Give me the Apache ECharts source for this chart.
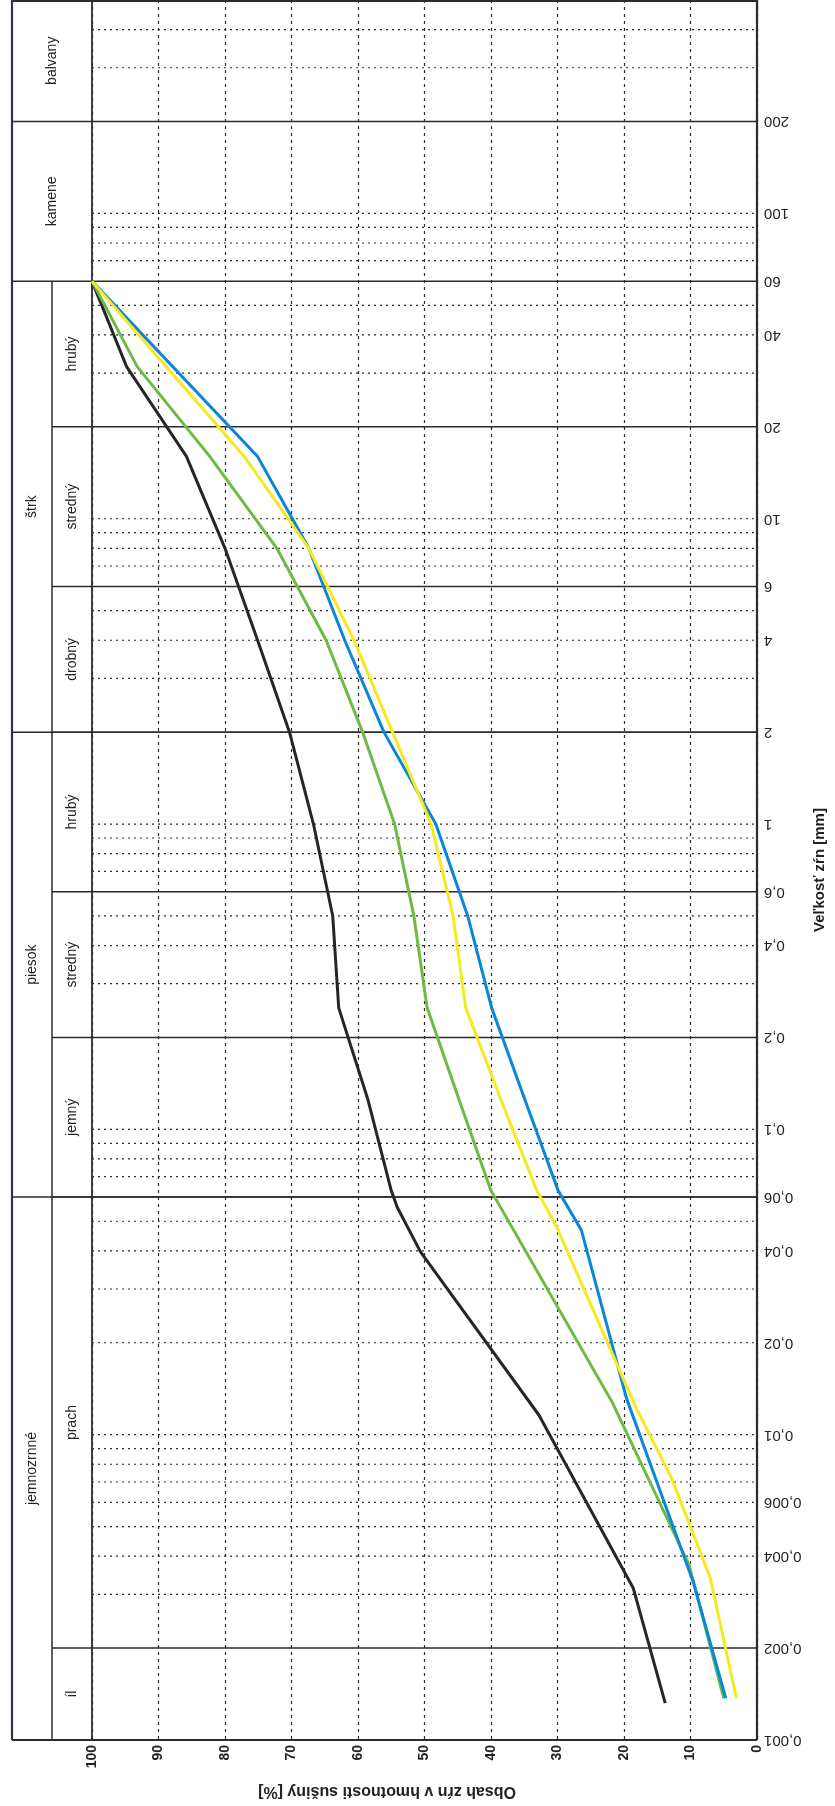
<!DOCTYPE html>
<html>
<head>
<meta charset="utf-8">
<style>
  html, body { margin: 0; padding: 0; background: #fff; }
  #chart { width: 835px; height: 1806px; }
</style>
<script src="https://cdn.jsdelivr.net/npm/echarts@6/dist/echarts.min.js"></script>
</head>
<body>
<div id="chart"></div>
<script>
// grain size [mm] vs. passing [%]
const blackSize = [60, 31.5, 16, 8, 4, 2, 1, 0.5, 0.25, 0.125, 0.063, 0.0556, 0.0397, 0.0116, 0.00314, 0.00132];
const blackPass = [100, 94.8, 85.8, 80.0, 75.1, 70.3, 66.7, 63.8, 62.9, 58.5, 55.0, 54.1, 50.6, 32.8, 18.6, 13.8];
const greenSize = [60, 31.5, 16, 8, 4, 2, 1, 0.5, 0.25, 0.125, 0.063, 0.0128, 0.00374, 0.00137];
const greenPass = [100, 93.2, 82.3, 72.2, 64.8, 59.3, 54.5, 51.6, 49.6, 44.8, 40.0, 21.8, 10.2, 5.0];
const blueSize = [60, 16, 8, 4, 2, 1, 0.5, 0.25, 0.125, 0.063, 0.0467, 0.0131, 0.0033, 0.00137];
const bluePass = [100, 75.1, 67.4, 62.0, 56.1, 48.3, 43.5, 39.9, 34.9, 29.9, 26.4, 19.6, 9.6, 4.7];
const yellowSize = [60, 16, 8, 4, 2, 1, 0.5, 0.25, 0.125, 0.063, 0.0483, 0.0124, 0.00718, 0.00338, 0.00137];
const yellowPass = [100, 77.1, 67.4, 60.6, 54.8, 49.0, 45.7, 43.8, 38.5, 33.1, 30.2, 18.3, 12.8, 7.0, 3.1];

// size axis ticks
const sizeTicks = [0.001, 0.002, 0.004, 0.006, 0.01, 0.02, 0.04, 0.06, 0.1, 0.2, 0.4, 0.6, 1, 2, 4, 6, 10, 20, 40, 60, 100, 200];
const sizeTickLabels = ['0,001', '0,002', '0,004', '0,006', '0,01', '0,02', '0,04', '0,06', '0,1', '0,2', '0,4', '0,6',
  '1', '2', '4', '6', '10', '20', '40', '60', '100', '200'];
const dottedSizes = [0.003, 0.004, 0.005, 0.006, 0.007, 0.008, 0.009, 0.01, 0.02, 0.03, 0.04, 0.05, 0.07, 0.08, 0.09,
  0.1, 0.3, 0.4, 0.5, 0.7, 0.8, 0.9, 1, 3, 4, 5, 7, 8, 9, 10, 30, 40, 50, 70, 80, 90, 100, 300, 400];

// soil classes
const groupNames = ['balvany', 'kamene', 'štrk', 'piesok', 'jemnozrnné'];
const groupFrom = [200, 60, 2, 0.06, 0.001];
const groupTo = [500, 200, 60, 2, 0.06];
const fractionNames = ['hrubý', 'stredný', 'drobný', 'hrubý', 'stredný', 'jemný', 'prach', 'íl'];
const fractionFrom = [20, 6, 2, 0.6, 0.2, 0.06, 0.002, 0.001];
const fractionTo = [60, 20, 6, 2, 0.6, 0.2, 0.06, 0.002];

const sizeMin = 0.001, sizeMax = 500;
const FONT = '"Liberation Sans", Arial, sans-serif';
const INK = '#2b2b2b';
const COL = 40; // header column width

function hLine(x1, y, x2, dash, w) {
  return {
    type: 'line',
    shape: { x1: x1, y1: y, x2: x2, y2: y },
    style: { stroke: INK, lineWidth: w, lineDash: dash }
  };
}

function renderDotted(params, api) {
  const a = api.coord([100, api.value(1)]);
  const b = api.coord([0, api.value(1)]);
  return hLine(a[0], a[1], b[0], [2, 4], 1.2);
}

function renderTicks(params, api) {
  const p = api.coord([0, api.value(1)]);
  return {
    type: 'text',
    x: p[0] + 7,
    y: p[1],
    rotation: Math.PI,
    style: {
      text: sizeTickLabels[params.dataIndex],
      fill: '#222',
      font: '15px ' + FONT,
      align: 'right',
      verticalAlign: 'middle'
    }
  };
}

function renderGroups(params, api) {
  const i = params.dataIndex;
  const lo = api.coord([100, groupFrom[i]]);
  const hi = api.coord([100, groupTo[i]]);
  const right = api.coord([0, groupFrom[i]])[0];
  const left = lo[0] - 2 * COL;
  const span = !fractionFrom.some(f => f >= groupFrom[i] && f < groupTo[i]);
  const children = [hLine(left, lo[1], right, null, 1.5)];
  children.push({
    type: 'text',
    x: span ? left + COL : left + COL / 2,
    y: (lo[1] + hi[1]) / 2,
    rotation: Math.PI / 2,
    style: { text: groupNames[i], fill: '#222', font: '14px ' + FONT, align: 'center', verticalAlign: 'middle' }
  });
  if (!span) {
    children.push({
      type: 'line',
      shape: { x1: left + COL, y1: lo[1], x2: left + COL, y2: hi[1] },
      style: { stroke: INK, lineWidth: 1.5 }
    });
  }
  return { type: 'group', children: children };
}

function renderFractions(params, api) {
  const i = params.dataIndex;
  const lo = api.coord([100, fractionFrom[i]]);
  const hi = api.coord([100, fractionTo[i]]);
  const right = api.coord([0, fractionFrom[i]])[0];
  return {
    type: 'group',
    children: [
      hLine(lo[0] - COL, lo[1], right, null, 1.5),
      {
        type: 'text',
        x: lo[0] - COL / 2,
        y: (lo[1] + hi[1]) / 2,
        rotation: Math.PI / 2,
        style: { text: fractionNames[i], fill: '#222', font: '14px ' + FONT, align: 'center', verticalAlign: 'middle' }
      }
    ]
  };
}

function renderFrame(params, api) {
  const tl = api.coord([100, sizeMax]);
  const br = api.coord([0, sizeMin]);
  const outer = tl[0] - 2 * COL;
  const st = { stroke: INK, lineWidth: 1.8 };
  return {
    type: 'group',
    children: [
      { type: 'line', shape: { x1: outer, y1: tl[1] + 1, x2: br[0], y2: tl[1] + 1 }, style: st },
      { type: 'line', shape: { x1: outer, y1: br[1], x2: br[0], y2: br[1] }, style: { stroke: INK, lineWidth: 2.2 } },
      { type: 'line', shape: { x1: outer, y1: tl[1], x2: outer, y2: br[1] }, style: { stroke: '#334', lineWidth: 2.2 } },
      { type: 'line', shape: { x1: tl[0], y1: tl[1], x2: tl[0], y2: br[1] }, style: st },
      { type: 'line', shape: { x1: br[0], y1: tl[1], x2: br[0], y2: br[1] }, style: { stroke: INK, lineWidth: 2.2 } }
    ]
  };
}

function pairs(pass, size) {
  return size.map((s, i) => [pass[i], s]);
}

function curve(name, color, pass, size) {
  return {
    name: name,
    type: 'line',
    data: pairs(pass, size),
    symbol: 'none',
    z: 5,
    lineStyle: { color: color, width: 3 },
    itemStyle: { color: color }
  };
}

const chart = echarts.init(document.getElementById('chart'));
chart.setOption({
  animation: false,
  textStyle: { fontFamily: FONT },
  grid: { left: 92, right: 67, top: 0, bottom: 66 },
  xAxis: {
    type: 'value',
    inverse: true,
    min: 0,
    max: 100,
    interval: 10,
    axisLine: { show: false },
    axisTick: { show: false },
    axisLabel: { rotate: 90, margin: 5, fontSize: 14, fontWeight: 'bold', color: '#222' },
    splitLine: { show: true, lineStyle: { color: INK, width: 1.2, type: [3, 4] } }
  },
  yAxis: {
    type: 'log',
    logBase: 10,
    position: 'right',
    min: sizeMin,
    max: sizeMax,
    axisLine: { show: false },
    axisTick: { show: false },
    axisLabel: { show: false },
    splitLine: { show: false },
    minorSplitLine: { show: false },
    name: 'Veľkosť zŕn [mm]',
    nameLocation: 'middle',
    nameRotate: 90,
    nameGap: 55,
    nameTextStyle: { fontSize: 15, fontWeight: 'bold', color: '#222' }
  },
  graphic: [{
    type: 'text',
    x: 387,
    y: 1791,
    rotation: Math.PI,
    style: {
      text: 'Obsah zŕn v hmotnosti sušiny [%]',
      fill: '#222',
      font: 'bold 16px ' + FONT,
      align: 'center',
      verticalAlign: 'middle'
    }
  }],
  series: [
    { type: 'custom', silent: true, z: 1, renderItem: renderDotted, data: dottedSizes.map(s => [0, s]) },
    { type: 'custom', silent: true, z: 2, renderItem: renderFractions, data: fractionFrom.map(s => [0, s]) },
    { type: 'custom', silent: true, z: 2, renderItem: renderGroups, data: groupFrom.map(s => [0, s]) },
    { type: 'custom', silent: true, z: 2, renderItem: renderTicks, data: sizeTicks.map(s => [0, s]) },
    { type: 'custom', silent: true, z: 3, renderItem: renderFrame, data: [[0, sizeMin]] },
    curve('black', '#262626', blackPass, blackSize),
    curve('green', '#6cbb45', greenPass, greenSize),
    curve('blue', '#0b86d9', bluePass, blueSize),
    curve('yellow', '#f6ea1e', yellowPass, yellowSize)
  ]
});
</script>
</body>
</html>
